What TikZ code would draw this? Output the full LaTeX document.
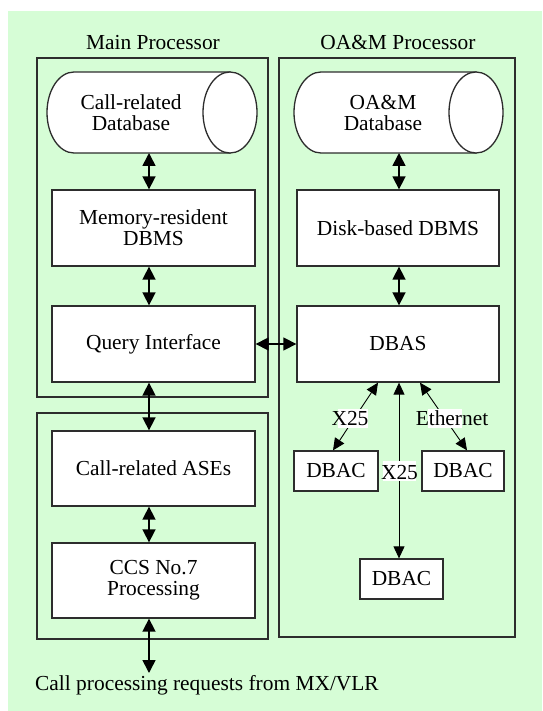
\documentclass[tikz,border=0pt]{standalone}
\usepackage{fontspec}
\setmainfont{Liberation Serif}
\usetikzlibrary{arrows.meta}
\definecolor{panel}{RGB}{214,253,214}
\definecolor{edge}{RGB}{45,45,45}

\begin{document}
\begin{tikzpicture}[x=1pt,y=-1pt,
  txt/.style={font=\fontsize{21.4}{21}\selectfont},
  frame/.style={draw=edge, line width=1.3pt},
  blk/.style={txt, draw=edge, fill=white, line width=1.3pt, inner sep=0pt, align=center},
  hull/.style={inner sep=0pt, outer sep=0pt},
  drum/.style={draw=edge, fill=white, line width=1.3pt},
  link/.style={line width=1.6pt, {Triangle[length=13pt,width=13pt]}-{Triangle[length=13pt,width=13pt]}},
  thinlink/.style={line width=0.9pt, {Triangle[length=12pt,width=11pt]}-{Triangle[length=12pt,width=11pt]}},
  tag/.style={txt, anchor=base, inner sep=0pt},
]
\useasboundingbox (0,0) rectangle (542,711);
\fill[panel] (8,11) rectangle (542,711);

% processor frames
\draw[frame] (37,58) rectangle (268,397);
\draw[frame] (37,413) rectangle (268,639);
\draw[frame] (279,58) rectangle (515,637);
\node[tag] (mainttl) at (153,50) {Main Processor};
\node[tag] (oamttl) at (398,49.5) {OA\&M Processor};

% databases drawn as horizontal drums
\node[hull, minimum width=210pt, minimum height=81pt] (cdb) at (152,112.5) {};
\path[drum] (230,72) -- (74,72) arc[start angle=90, end angle=270, x radius=27pt, y radius=40.5pt] -- (230,153) -- cycle;
\draw[drum] (230,112.5) ellipse[x radius=27pt, y radius=40.5pt];
\node[txt, align=center] (cdbtxt) at (131,112.5) {Call-related\\Database};

\node[hull, minimum width=209pt, minimum height=81pt] (odb) at (398.5,112.5) {};
\path[drum] (476,72) -- (321,72) arc[start angle=90, end angle=270, x radius=27pt, y radius=40.5pt] -- (476,153) -- cycle;
\draw[drum] (476,112.5) ellipse[x radius=27pt, y radius=40.5pt];
\node[txt, align=center] (odbtxt) at (383,112.5) {OA\&M\\Database};

% main processor blocks
\node[blk, minimum width=203pt, minimum height=76pt] (mem) at (153.5,228) {Memory-resident\\DBMS};
\node[blk, minimum width=203pt, minimum height=76pt] (qi) at (153.5,344) {Query Interface};
\node[blk, minimum width=203pt, minimum height=75pt] (ase) at (153.5,468.5) {Call-related ASEs};
\node[blk, minimum width=203pt, minimum height=75pt] (ccs) at (153.5,580.5) {CCS No.7\\Processing};

% OA&M processor blocks
\node[blk, minimum width=202pt, minimum height=76pt] (disk) at (398,228) {Disk-based DBMS};
\node[blk, minimum width=202pt, minimum height=76pt] (dbas) at (398,344) {DBAS};
\node[blk, minimum width=84pt, minimum height=40pt] (dbacL) at (336,471) {DBAC};
\node[blk, minimum width=82pt, minimum height=40pt] (dbacR) at (463,471) {DBAC};
\node[blk, minimum width=83pt, minimum height=40pt] (dbacB) at (401.5,579) {DBAC};

\coordinate (req) at (149,673);

% connectors
\draw[link] ([xshift=-3pt]cdb.south) -- ([xshift=-4.5pt]mem.north);
\draw[link] ([xshift=-4.5pt]mem.south) -- ([xshift=-4.5pt]qi.north);
\draw[link] ([xshift=-4.5pt]qi.south) -- ([xshift=-4.5pt]ase.north);
\draw[link] ([xshift=-4.5pt]ase.south) -- ([xshift=-4.5pt]ccs.north);
\draw[link] ([xshift=-4.5pt]ccs.south) -- (req);
\draw[link] ([xshift=0.5pt]odb.south) -- ([xshift=1pt]disk.north);
\draw[link] ([xshift=1pt]disk.south) -- ([xshift=1pt]dbas.north);
\draw[link, line width=1.3pt] (qi.east) -- (dbas.west);

\draw[thinlink] ([xshift=-20pt]dbas.south) -- ([xshift=-3pt]dbacL.north);
\draw[thinlink] ([xshift=1pt]dbas.south) -- ([xshift=-2.5pt]dbacB.north);
\draw[thinlink] ([xshift=22pt]dbas.south) -- ([xshift=4pt]dbacR.north);

% link labels
\fill[white] (338,409) rectangle (368,428);
\node[tag] (x25a) at (350,425) {X25};
\fill[white] (428,409) rectangle (462,428);
\node[tag] (eth) at (452,425) {Ethernet};
\fill[white] (383,461) rectangle (416,481);
\node[tag] (x25b) at (399.5,479) {X25};

\node[txt, anchor=base west, inner sep=0pt] (reqtxt) at (35,690) {Call processing requests from MX/VLR};
\end{tikzpicture}
\end{document}
